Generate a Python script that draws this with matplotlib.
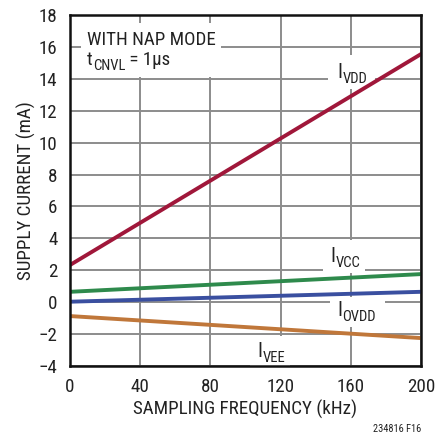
import matplotlib
matplotlib.use('Agg')
import matplotlib.pyplot as plt
from matplotlib import font_manager
from matplotlib.patches import Rectangle

# supply current vs sampling frequency
freq_khz = [0, 200]
i_vdd = [2.33, 15.55]
i_vcc = [0.65, 1.76]
i_ovdd = [0.03, 0.65]
i_vee = [-0.87, -2.25]

x_ticks = [0, 40, 80, 120, 160, 200]
y_ticks = list(range(-4, 20, 2))

# want a condensed sans, take what is there
names = set(f.name for f in font_manager.fontManager.ttflist)
fam = None
for c in ['Roboto Condensed', 'Liberation Sans Narrow', 'Arial Narrow',
          'DejaVu Sans Condensed', 'Open Sans Condensed', 'Noto Sans Condensed']:
    if c in names:
        fam = c
        break
stretch = 'normal'
if fam is None:
    for f in font_manager.fontManager.ttflist:
        if f.stretch == 'condensed' and f.style == 'normal' and f.weight in (400, 'normal'):
            fam = f.name
            stretch = 'condensed'
            break
if fam is None:
    fam = 'Liberation Sans'

plt.rcParams['font.family'] = [fam, 'DejaVu Sans']
plt.rcParams['font.stretch'] = stretch

tc = '#222222'
fs = 13.7

fig = plt.figure(figsize=(4.38, 4.33), dpi=100)
ax = fig.add_axes([70 / 438, 1 - 366 / 433, 351 / 438, 351 / 433])

ax.plot(freq_khz, i_vdd, color='#a0173a', lw=2.8, zorder=3)
ax.plot(freq_khz, i_vcc, color='#2e8a4c', lw=2.8, zorder=3)
ax.plot(freq_khz, i_ovdd, color='#3a4fa0', lw=2.8, zorder=3)
ax.plot(freq_khz, i_vee, color='#c0773a', lw=2.8, zorder=3)

ax.set_xlim(0, 200)
ax.set_ylim(-4, 18)
ax.set_xticks(x_ticks)
ax.set_yticks(y_ticks)
ax.set_yticklabels([str(v).replace('-', '\u2212') for v in y_ticks])
ax.tick_params(length=0, labelsize=fs, colors=tc, pad=9)
ax.grid(True, color='#8c8c8c', lw=1.4)
ax.set_axisbelow(True)
for s in ax.spines.values():
    s.set_linewidth(1.8)
    s.set_color('#111111')
    s.set_zorder(5)

ax.set_xlabel('SAMPLING FREQUENCY (kHz)', fontsize=fs, color=tc)
ax.set_ylabel('SUPPLY CURRENT (mA)', fontsize=fs, color=tc)
ax.xaxis.set_label_coords(0.5, -0.095)
ax.yaxis.set_label_coords(-0.097, 0.5)

# white patches behind the labels, hiding the grid
for x0, x1, y0, y1 in [(6.3, 86.0, 14.1, 17.5), (147.0, 173.8, 13.36, 15.5),
                       (144.2, 168.1, 1.82, 3.89), (148.1, 179.5, -1.56, 0.32),
                       (102.6, 125.4, -4.0, -2.13)]:
    ax.add_patch(Rectangle((x0, y0), x1 - x0, y1 - y0, facecolor='white',
                           edgecolor='none', zorder=1))


def sub_label(x, y, main, sub, rest='', size=14.5, subsize=10.5):
    t = ax.text(x, y, main, fontsize=size, color=tc, va='baseline', zorder=4)
    s = ax.annotate(sub, xy=(1, 0), xycoords=t, xytext=(0.3, -3),
                    textcoords='offset points', fontsize=subsize, color=tc,
                    va='bottom', zorder=4)
    if rest:
        ax.annotate(rest, xy=(1, 0), xycoords=(s, t), fontsize=size, color=tc,
                    va='bottom', zorder=4)


ax.text(9.7, 16.12, 'WITH NAP MODE', fontsize=fs, color=tc, va='baseline', zorder=4)
sub_label(9.7, 14.87, 't', 'CNVL', ' = 1µs', size=fs)
sub_label(152.1, 14.05, 'I', 'VDD')
sub_label(148.1, 2.51, 'I', 'VCC')
sub_label(152.1, -0.87, 'I', 'OVDD')
sub_label(106.6, -3.44, 'I', 'VEE')

fig.text(397 / 438, 1 - 429 / 433, '234816 F16', fontsize=7.5, color=tc,
         ha='center', va='center')

fig.savefig('out.png', dpi=100)
